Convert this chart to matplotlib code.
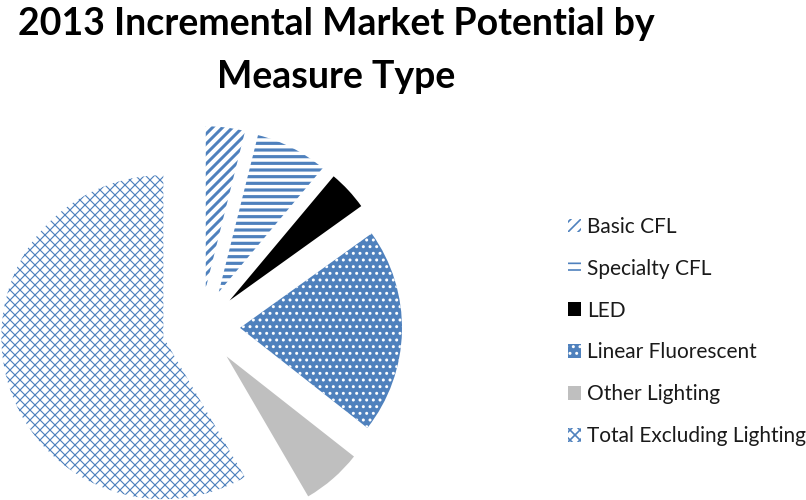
import matplotlib
matplotlib.use("Agg")
import matplotlib.pyplot as plt

categories = ["Basic CFL", "Specialty CFL", "LED", "Linear Fluorescent",
              "Other Lighting", "Total Excluding Lighting"]
values = [3.9, 7.2, 4.0, 20.5, 6.0, 58.4]

title = "2013 Incremental Market Potential by\nMeasure Type"

BLUE = "#4F81BD"
faces = ["white", "white", "black", BLUE, "#BFBFBF", "white"]
edges = [BLUE, BLUE, "black", "white", "#BFBFBF", BLUE]
hatches = ["////", "---", None, "...", None, "xxxx"]
hatch_lw = [1.8, 1.9, 1.0, 1.0, 1.0, 0.7]

DPI = 120
fig = plt.figure(figsize=(806 / DPI, 500 / DPI), dpi=DPI)
ax = fig.add_axes([0, 0, 1, 1])

wedges, _ = ax.pie(values, explode=[39] * len(values), startangle=90,
                   counterclock=False, center=(201, 173), radius=162,
                   colors=faces, wedgeprops=dict(linewidth=0))
for w, fc, ec, h, hl in zip(wedges, faces, edges, hatches, hatch_lw):
    w.set_facecolor(fc)
    w.set_edgecolor(ec)
    w.set_linewidth(0)
    if h:
        w.set_hatch(h)
        if hasattr(w, "set_hatch_linewidth"):
            w.set_hatch_linewidth(hl)

ax.set_xlim(0, 806)
ax.set_ylim(0, 500)
ax.set_aspect("equal")
ax.axis("off")

fig.text(336 / 806, 1 - 7 / 500, title, ha="center", va="top",
         fontsize=22.5, fontweight="bold", family="Lato", color="black",
         linespacing=1.68)

leg = ax.legend(wedges, categories, loc="upper left",
                bbox_to_anchor=(549 / 806, 1 - 198 / 500),
                bbox_transform=fig.transFigure, frameon=False,
                prop=dict(family="Lato", size=12.5),
                handlelength=0.62, handleheight=0.62, handletextpad=0.3,
                labelspacing=1.05)
for t in leg.get_texts():
    t.set_color("#1a1a1a")

fig.savefig("out.png", dpi=DPI)
